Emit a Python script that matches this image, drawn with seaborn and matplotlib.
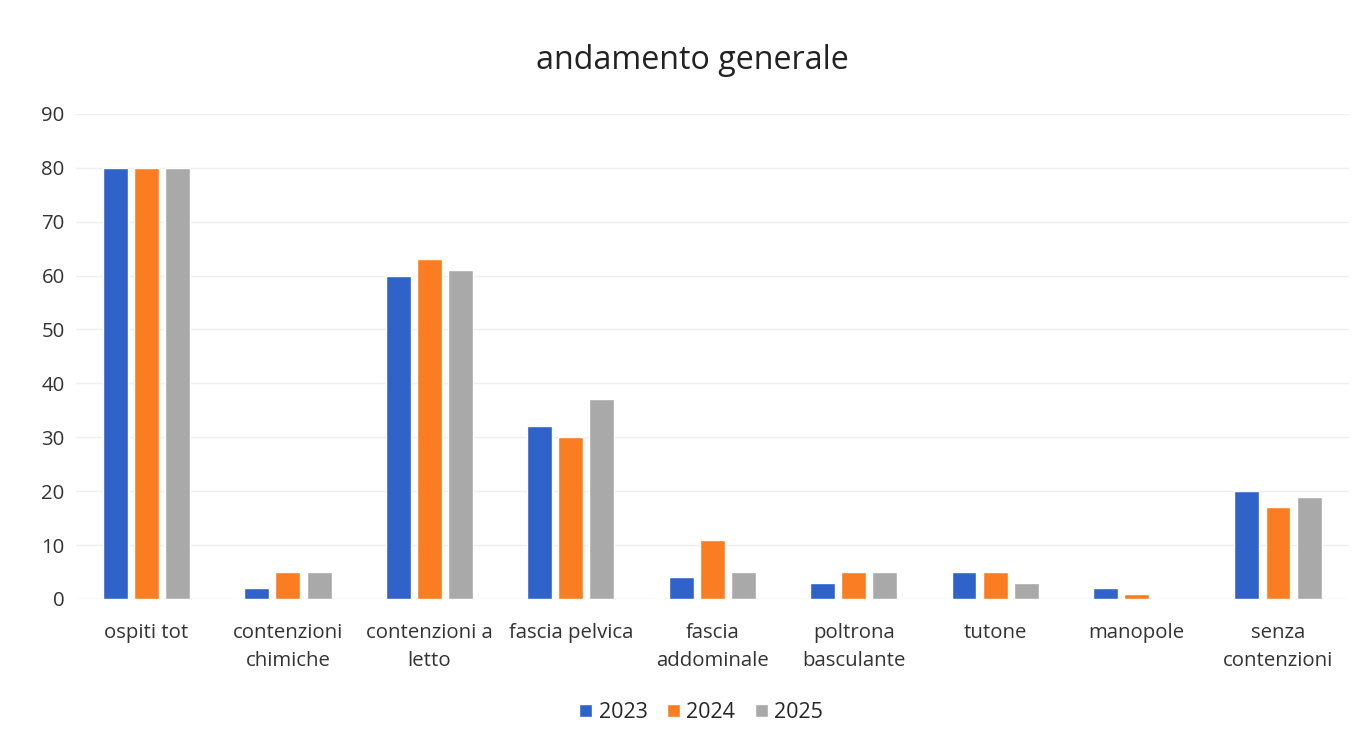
import matplotlib
matplotlib.use("Agg")
import matplotlib.pyplot as plt
import seaborn as sns
import pandas as pd

categories = ["ospiti tot", "contenzioni\nchimiche", "contenzioni a\nletto", "fascia pelvica",
              "fascia\naddominale", "poltrona\nbasculante", "tutone", "manopole", "senza\ncontenzioni"]
years = ["2023", "2024", "2025"]
v2023 = [80, 2, 60, 32, 4, 3, 5, 2, 20]
v2024 = [80, 5, 63, 30, 11, 5, 5, 1, 17]
v2025 = [80, 5, 61, 37, 5, 5, 3, 0, 19]
colors = ["#2f63c9", "#fb7d22", "#a9a9a9"]

rows = []
for y, vals in zip(years, [v2023, v2024, v2025]):
    for c, v in zip(categories, vals):
        rows.append({"cat": c, "year": y, "val": v})
df = pd.DataFrame(rows)

sns.set_theme(style="white")
plt.rcParams['font.family'] = ['Open Sans', 'DejaVu Sans']

fig = plt.figure(figsize=(13.68, 7.44), dpi=100)
ax = fig.add_axes([0.0554, 0.195, 0.9305, 0.652])
sns.barplot(data=df, x="cat", y="val", hue="year", palette=colors, width=0.66, gap=0.2,
            ax=ax, order=categories, hue_order=years, saturation=1, legend=True)
ax.set_ylim(0, 90)
ax.set_xlim(-0.5, len(categories) - 0.5)
ax.set_yticks(range(0, 91, 10))
ax.yaxis.grid(True, color="#efefef", linewidth=1)
ax.set_axisbelow(True)
for s in ax.spines.values():
    s.set_visible(False)
ax.tick_params(axis="both", length=0, labelsize=14.7, colors="#333333")
ax.tick_params(axis="x", pad=17)
ax.tick_params(axis="y", pad=8)
for t in ax.get_xticklabels():
    t.set_linespacing(1.55)
ax.set_xlabel("")
ax.set_ylabel("")
fig.text(0.506, 0.919, "andamento generale", ha="center", va="center", fontsize=23.2, color="#222222")
h, l = ax.get_legend_handles_labels()
ax.get_legend().remove()
fig.legend(h, l, loc="center", bbox_to_anchor=(0.5125, 0.042), ncol=3, frameon=False,
           fontsize=15.5, handlelength=0.6, handleheight=0.6, handletextpad=0.3, columnspacing=0.9)
fig.savefig("out.png", dpi=100, facecolor="white")
